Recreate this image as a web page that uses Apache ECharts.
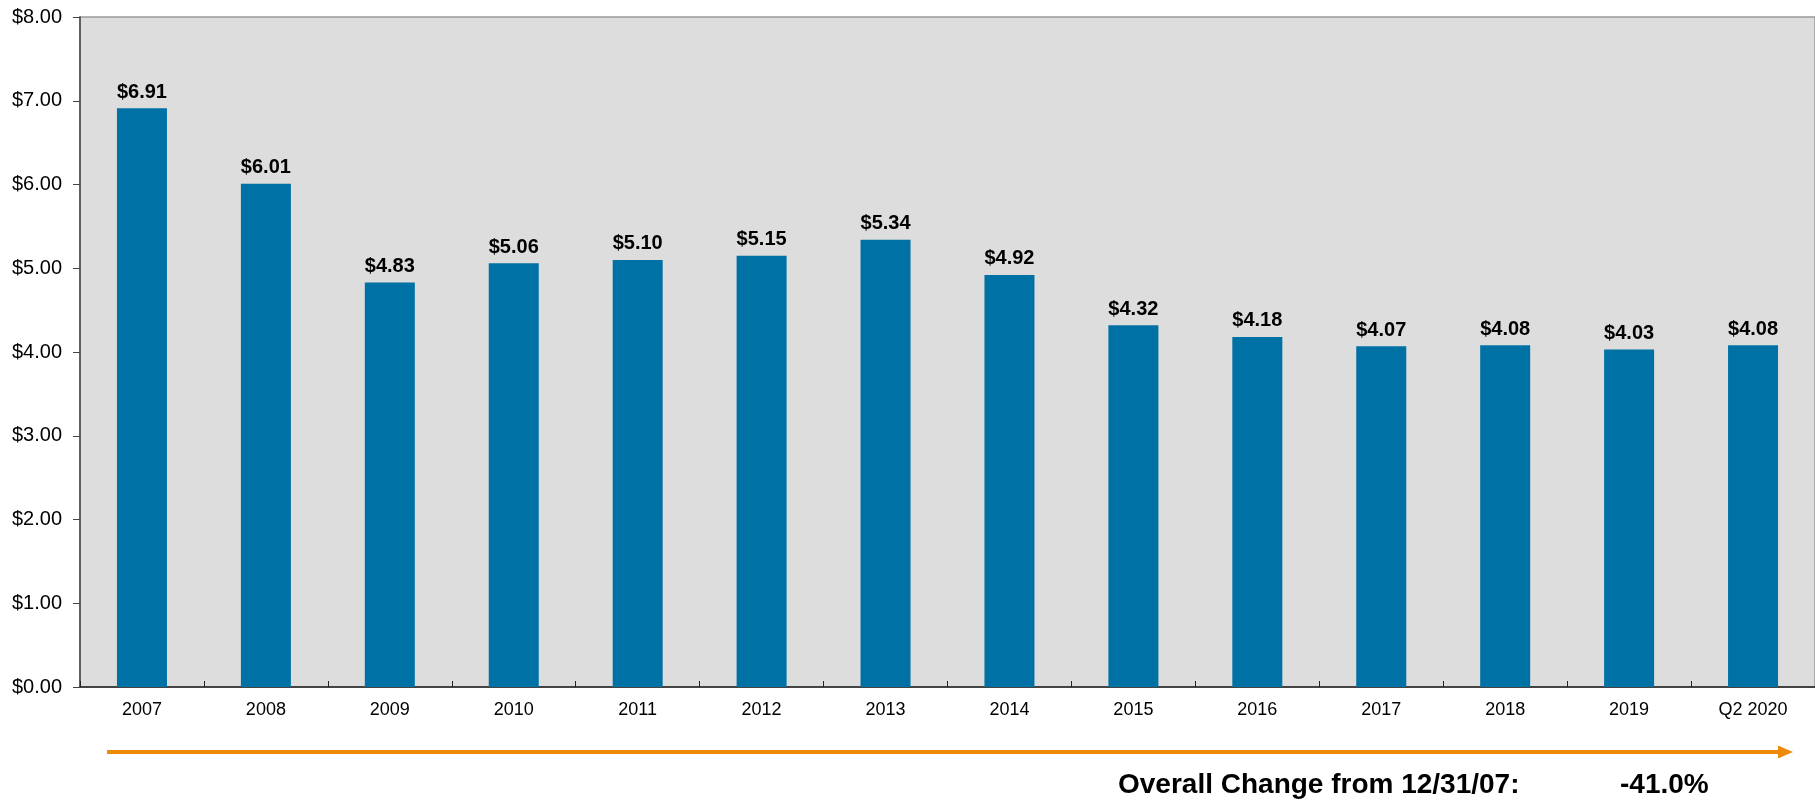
<!DOCTYPE html>
<html>
<head>
<meta charset="utf-8">
<script src="https://cdn.jsdelivr.net/npm/echarts@6/dist/echarts.min.js"></script>
<style>html,body{margin:0;padding:0;background:#fff}#c{width:1815px;height:801px}</style>
</head>
<body>
<div id="c"></div>
<script>
const categories = ['2007','2008','2009','2010','2011','2012','2013','2014','2015','2016','2017','2018','2019','Q2 2020'];
const values = [6.91, 6.01, 4.83, 5.06, 5.10, 5.15, 5.34, 4.92, 4.32, 4.18, 4.07, 4.08, 4.03, 4.08];
const changeLabel = 'Overall Change from 12/31/07:';
const changeValue = '-41.0%';

const chart = echarts.init(document.getElementById('c'), null, {renderer: 'canvas'});
const FONT = '"Liberation Sans", Arial, sans-serif';
chart.setOption({
  animation: false,
  grid: {left: 80, right: 0, top: 17, bottom: 114, show: true, backgroundColor: '#dddddd', borderColor: '#999999', borderWidth: 1.5},
  xAxis: {
    type: 'category', data: categories,
    axisLine: {show: true, lineStyle: {color: '#222', width: 1.5}},
    axisTick: {show: true, inside: true, length: 6, alignWithLabel: false, lineStyle: {color: '#222'}},
    axisLabel: {color: '#000', fontSize: 18, fontFamily: FONT, margin: 14}
  },
  yAxis: {
    type: 'value', min: 0, max: 8, interval: 1,
    axisLine: {show: true, lineStyle: {color: '#444', width: 1.5}},
    axisTick: {show: true, length: 7, lineStyle: {color: '#444'}},
    splitLine: {show: false},
    axisLabel: {color: '#000', fontSize: 20, fontFamily: FONT, margin: 18, formatter: v => '$' + v.toFixed(2)}
  },
  series: [{
    type: 'bar', data: values, barWidth: 50,
    itemStyle: {color: '#0071a4'},
    label: {show: true, position: 'top', distance: 6, color: '#000', fontWeight: 'bold', fontSize: 20, fontFamily: FONT,
      formatter: p => '$' + p.value.toFixed(2)}
  }],
  graphic: [
    {type: 'line', shape: {x1: 107, y1: 752, x2: 1780, y2: 752}, style: {stroke: '#ec8a0c', lineWidth: 4}},
    {type: 'polygon', shape: {points: [[1778, 745.5], [1793, 752], [1778, 758.5]]}, style: {fill: '#ec8a0c'}},
    {type: 'text', x: 1118, y: 785, style: {text: changeLabel, font: 'bold 28px ' + FONT, fill: '#000', textVerticalAlign: 'middle', verticalAlign: 'middle'}},
    {type: 'text', x: 1620, y: 785, style: {text: changeValue, font: 'bold 28px ' + FONT, fill: '#000', textVerticalAlign: 'middle', verticalAlign: 'middle'}}
  ]
});
</script>
</body>
</html>
